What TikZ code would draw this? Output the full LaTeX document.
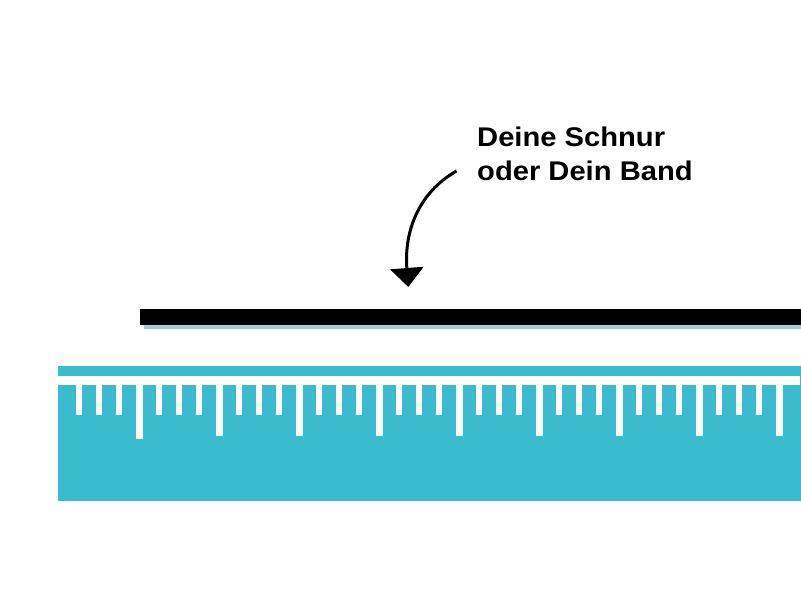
\documentclass[tikz,border=0pt]{standalone}
\usepackage{fontspec}
\setmainfont{Liberation Sans}
\newfontfamily\lblfont[FakeStretch=1.08]{Liberation Sans}
\usetikzlibrary{arrows.meta}
\definecolor{rulerteal}{HTML}{3ABCCE}
\definecolor{shadowteal}{HTML}{9CCDD4}
\tikzset{
  labeltext/.style={font=\lblfont\bfseries\fontsize{27}{33.3}\selectfont,align=left,anchor=north west,inner sep=0pt},
  curvedarrow/.style={line width=3pt,-{Triangle[length=19pt,width=33pt]}}
}
\begin{document}
\begin{tikzpicture}[x=1pt,y=-1pt]
\useasboundingbox (0,0) rectangle (801,601);
\fill[white] (0,0) rectangle (801,601);
% string / band with shadow
\fill[shadowteal] (144,324) rectangle (801,329);
\fill[black] (140,309) rectangle (801,325);
% ruler
\fill[rulerteal] (57.5,366) rectangle (801,501);
\fill[white] (57.5,376.5) rectangle (800,385.5);
\foreach \i in {0,...,35}{
  \pgfmathsetmacro{\cx}{79+20*\i}
  \pgfmathtruncatemacro{\m}{mod(\i,4)}
  \ifnum\m=3
    \fill[white] (\cx-3.5,385) rectangle (\cx+3.5,436);
  \else
    \fill[white] (\cx-3,385) rectangle (\cx+3,415.5);
  \fi
}
\fill[white] (136.3,430) rectangle (143.3,439);
% label and arrow
\node[labeltext] (lbl) at (477,127) {Deine Schnur\\oder Dein Band};
\coordinate (astart) at (456.5,171);
\coordinate (aend) at (408.3,287);
\draw[curvedarrow] (astart) .. controls (418,193) and (404,232) .. (aend);
\end{tikzpicture}
\end{document}
